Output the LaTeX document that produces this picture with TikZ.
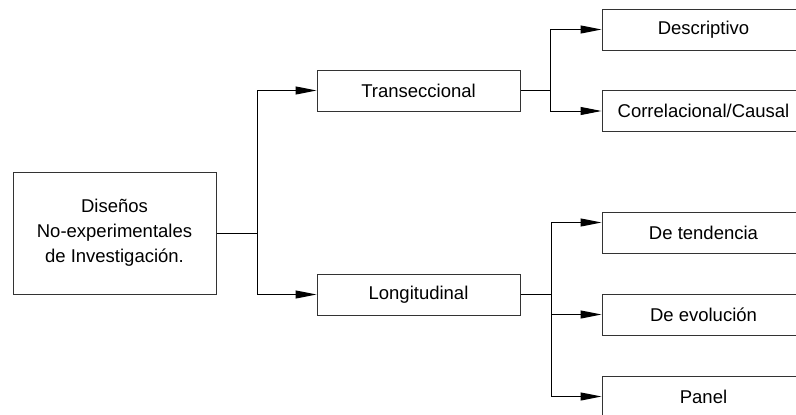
\documentclass[tikz,border=0pt]{standalone}
\usepackage{fontspec}
\setmainfont{Liberation Sans}
\usetikzlibrary{arrows.meta}
\begin{document}
\begin{tikzpicture}[x=1pt,y=-1pt,
  box/.style={draw=black!80, line width=1pt, minimum width=203pt, minimum height=41pt,
    inner sep=0pt, align=center, font=\fontsize{18.5}{25}\selectfont},
  conn/.style={line width=1pt, black},
  arr/.style={conn, -{Triangle[length=21pt,width=8pt]}}]
\useasboundingbox (0,0) rectangle (796,415);
\clip (0,0) rectangle (796,415);
\node[box, minimum height=122pt] (r) at (114.5,233) {Diseños\\No-experimentales\\de Investigación.};
\node[box] (t) at (418.5,90.5) {Transeccional};
\node[box] (l) at (418.5,294.5) {Longitudinal};
\node[box] (d) at (703.5,29.5) {Descriptivo};
\node[box] (c) at (703.5,111) {Correlacional/Causal};
\node[box] (dt) at (703.5,233) {De tendencia};
\node[box] (de) at (703.5,314.5) {De evolución};
\node[box] (p) at (703.5,396.5) {Panel};
\coordinate (j1) at (257,233);
\coordinate (j2) at (550,90.5);
\coordinate (j3) at (551,294.5);
\draw[conn] (r.east) -- (j1);
\draw[arr] (j1) |- (t.west);
\draw[arr] (j1) |- (l.west);
\draw[conn] (t.east) -- (j2);
\draw[arr] (j2) |- (d.west);
\draw[arr] (j2) |- (c.west);
\draw[conn] (l.east) -- (j3);
\draw[arr] (j3) |- ([yshift=-10.5pt]dt.north west);
\draw[arr] (j3) |- (de.west);
\draw[arr] (j3) |- (p.west);
\end{tikzpicture}
\end{document}
